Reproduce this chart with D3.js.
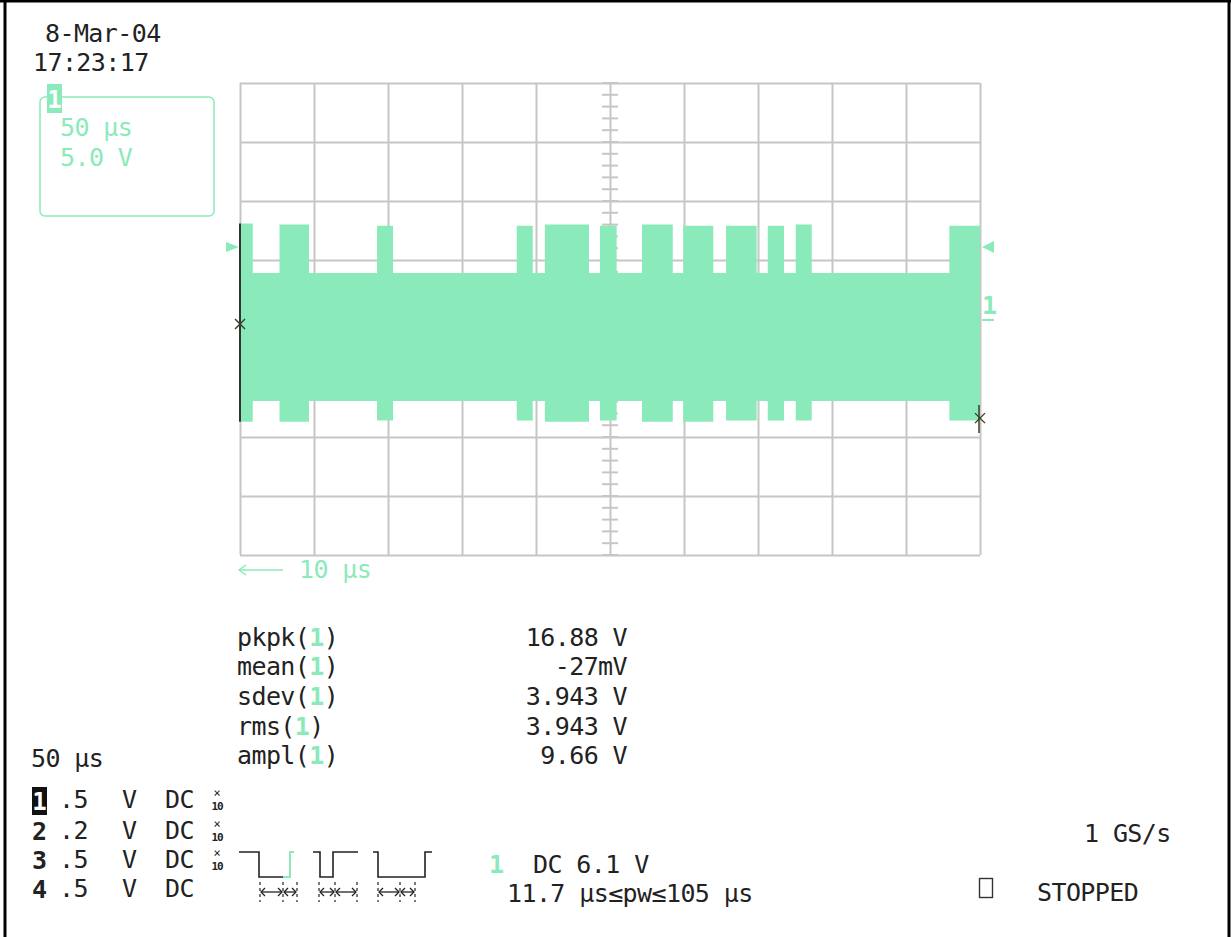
<!DOCTYPE html>
<html><head><meta charset="utf-8">
<script src="https://cdn.jsdelivr.net/npm/d3@7"></script>
<style>
html,body{margin:0;padding:0;background:#fff;}
svg text{font-family:"DejaVu Sans Mono",monospace;font-size:25px;letter-spacing:-0.6px;fill:#222;}
</style></head>
<body>
<svg id="c" width="1231" height="937"></svg>
<script>
const timeDivs = [0, 50, 100, 150, 200, 250, 300, 350, 400, 450, 500];   // µs, 50 µs/div
const voltDivs = [-20, -15, -10, -5, 0, 5, 10, 15, 20];                   // V, 5 V/div
const burstStart = [0, 26.7, 92.6, 187.0, 206.0, 243.2, 271.6, 299.5, 328.4, 356.6, 375.5, 479.3]; // µs
const burstEnd   = [8.6, 46.6, 103.4, 197.8, 235.8, 254.5, 292.4, 319.8, 349.1, 367.6, 386.3, 500]; // µs
const burstHigh = [8.1, 8.0, 7.9, 7.9, 8.0, 7.9, 8.0, 7.9, 7.9, 7.9, 8.0, 7.9];   // V envelope max in burst
const burstLow  = [-8.7, -8.7, -8.6, -8.6, -8.7, -8.6, -8.7, -8.7, -8.6, -8.6, -8.6, -8.6];
const idleHigh = 3.9, idleLow = -6.95;     // V envelope between bursts
const triggerLevel = 6.1;                  // V
const cursorA = {t: 0, v: -0.42}, cursorB = {t: 500, v: -8.4};
const measNames = ["pkpk", "mean", "sdev", "rms", "ampl"];
const measValues = ["16.88 V", "-27mV", "3.943 V", "3.943 V", "9.66 V"];
const chanNums = ["1", "2", "3", "4"];
const chanScale = [".5", ".2", ".5", ".5"];
const chanProbe = [true, true, true, false];

const GREEN = "#8beab9", GRID = "#c6c6c6", INK = "#222";
const svg = d3.select("#c");

// frame
svg.append("line").attr("x1",5).attr("x2",5).attr("y1",0).attr("y2",937).attr("stroke","#000").attr("stroke-width",3);
svg.append("line").attr("x1",0).attr("x2",1231).attr("y1",1).attr("y2",1).attr("stroke","#000").attr("stroke-width",3);
svg.append("line").attr("x1",1229).attr("x2",1229).attr("y1",0).attr("y2",937).attr("stroke","#000").attr("stroke-width",3);

const x = d3.scaleLinear().domain([0, 500]).range([240, 980]);
const y = d3.scaleLinear().domain([-20, 20]).range([555, 83]);

// grid via axes
const gx = svg.append("g").attr("transform","translate(0,555)")
  .call(d3.axisBottom(x).tickValues(timeDivs).tickSize(-(555-83)).tickFormat(""));
const gy = svg.append("g").attr("transform","translate(240,0)")
  .call(d3.axisLeft(y).tickValues(voltDivs).tickSize(-(980-240)).tickFormat(""));
[gx, gy].forEach(g => { g.select(".domain").remove(); g.selectAll("line").attr("stroke",GRID).attr("stroke-width",2); });

// minor ticks on centre axes
const vMinor = d3.range(-20, 20.01, 1);
const tMinor = d3.range(0, 500.01, 10);
svg.append("g").selectAll("line").data(vMinor).join("line")
  .attr("x1", x(250)-8).attr("x2", x(250)+8).attr("y1", d=>y(d)).attr("y2", d=>y(d))
  .attr("stroke",GRID).attr("stroke-width",2);
svg.append("g").selectAll("line").data(tMinor).join("line")
  .attr("y1", y(0)-8).attr("y2", y(0)+8).attr("x1", d=>x(d)).attr("x2", d=>x(d))
  .attr("stroke",GRID).attr("stroke-width",2);

// envelope breakpoints
const env = [];
burstStart.forEach((s,i) => {
  env.push({t:s, hi:burstHigh[i], lo:burstLow[i]});
  env.push({t:burstEnd[i], hi:idleHigh, lo:idleLow});
});
const area = d3.area().x(d=>x(d.t)).y0(d=>y(d.lo)).y1(d=>y(d.hi)).curve(d3.curveStepAfter);
svg.append("path").datum(env).attr("d", area).attr("fill", GREEN);

// trace start line
svg.append("line").attr("x1",x(0)).attr("x2",x(0)).attr("y1",y(burstHigh[0])).attr("y2",y(burstLow[0]))
  .attr("stroke","#333").attr("stroke-width",2);

// cursor markers
function cross(cx, cy){
  const g = svg.append("g").attr("stroke","#3c3c28").attr("stroke-width",1.4);
  g.append("line").attr("x1",cx-5).attr("x2",cx+5).attr("y1",cy-5).attr("y2",cy+5);
  g.append("line").attr("x1",cx-5).attr("x2",cx+5).attr("y1",cy+5).attr("y2",cy-5);
}
cross(x(cursorA.t), y(cursorA.v));
cross(x(cursorB.t), y(cursorB.v));
svg.append("line").attr("x1",x(cursorB.t)-1).attr("x2",x(cursorB.t)-1).attr("y1",y(cursorB.v)-13).attr("y2",y(cursorB.v)+15)
  .attr("stroke","#3c3c28").attr("stroke-width",1.5);

// trigger level arrows
const ty = y(triggerLevel);
svg.append("path").attr("d",`M226,${ty-5}L239,${ty}L226,${ty+5}Z`).attr("fill",GREEN);
svg.append("path").attr("d",`M994,${ty-6}L982,${ty}L994,${ty+6}Z`).attr("fill",GREEN);

// channel 1 ground marker
svg.append("text").attr("x",982).attr("y",314).text("1").style("fill",GREEN).style("font-weight","bold");
svg.append("line").attr("x1",982).attr("x2",994).attr("y1",y(0)+1).attr("y2",y(0)+1).attr("stroke",GREEN).attr("stroke-width",2);

// date / time
svg.append("text").attr("x",45).attr("y",42).text("8-Mar-04");
svg.append("text").attr("x",33).attr("y",71).text("17:23:17");

// channel box
svg.append("rect").attr("x",40).attr("y",97).attr("width",174).attr("height",119).attr("rx",5)
  .attr("fill","none").attr("stroke",GREEN).attr("stroke-width",1.5);
svg.append("rect").attr("x",47).attr("y",84).attr("width",15).attr("height",29).attr("fill",GREEN);
svg.append("text").attr("x",54.5).attr("y",108).attr("text-anchor","middle").text("1")
  .style("fill","#fff").style("font-weight","bold").style("font-size","24px").style("letter-spacing","0");
svg.append("text").attr("x",60).attr("y",136).text("50 µs").style("fill",GREEN);
svg.append("text").attr("x",60).attr("y",166).text("5.0 V").style("fill",GREEN);

// 10 µs arrow
svg.append("line").attr("x1",239).attr("x2",283).attr("y1",570).attr("y2",570).attr("stroke",GREEN).attr("stroke-width",1.5);
svg.append("path").attr("d","M246,565L239,570L246,575").attr("fill","none").attr("stroke",GREEN).attr("stroke-width",1.5);
svg.append("text").attr("x",299).attr("y",578).text("10 µs").style("fill",GREEN);

// measurements
const mBase = [646, 675, 705, 735, 764];
measNames.forEach((n,i) => {
  const t = svg.append("text").attr("x",237).attr("y",mBase[i]);
  t.append("tspan").text(n + "(");
  t.append("tspan").text("1").style("fill",GREEN).style("font-weight","bold");
  t.append("tspan").text(")");
  svg.append("text").attr("x",627).attr("y",mBase[i]).attr("text-anchor","end").text(measValues[i]);
});

// timebase
svg.append("text").attr("x",31).attr("y",767).text("50 µs");

// channel rows
const rBase = [808, 839, 868, 897];
chanNums.forEach((c,i) => {
  if (i === 0) {
    svg.append("rect").attr("x",32).attr("y",787).attr("width",15).attr("height",28).attr("fill","#111");
    svg.append("text").attr("x",39.5).attr("y",rBase[i]+2).attr("text-anchor","middle").text(c)
      .style("fill","#fff").style("font-weight","bold").style("font-size","24px").style("letter-spacing","0");
  } else {
    svg.append("text").attr("x",39.5).attr("y",rBase[i]+1).attr("text-anchor","middle").text(c)
      .style("font-weight","bold").style("font-size","25px").style("letter-spacing","0");
  }
  svg.append("text").attr("x",59).attr("y",rBase[i]).text(chanScale[i]);
  svg.append("text").attr("x",122).attr("y",rBase[i]).text("V");
  svg.append("text").attr("x",165).attr("y",rBase[i]).text("DC");
  if (chanProbe[i]) {
    svg.append("text").attr("x",217).attr("y",rBase[i]-11).attr("text-anchor","middle").text("×")
      .style("font-size","12px").style("letter-spacing","0");
    svg.append("text").attr("x",217).attr("y",rBase[i]+2).attr("text-anchor","middle").text("10")
      .style("font-size","11px").style("font-weight","bold").style("letter-spacing","-1px");
  }
});

// trigger pattern glyphs
const pg = svg.append("g").attr("fill","none").attr("stroke-width",1.6);
pg.append("path").attr("d","M239,852H259V877H283").attr("stroke",INK);
pg.append("path").attr("d","M283,877H290V852H294").attr("stroke",GREEN).attr("stroke-width",2);
pg.append("path").attr("d","M313,852H320V877H333V852H358").attr("stroke",INK);
pg.append("path").attr("d","M373,852H378V877H425V852H432").attr("stroke",INK);
[[260,283,297],[319,335,357],[378,400,415]].forEach(g => {
  g.forEach(xx => pg.append("line").attr("x1",xx).attr("x2",xx).attr("y1",882).attr("y2",902)
      .attr("stroke",INK).attr("stroke-width",1.2).attr("stroke-dasharray","3,3"));
  const ay = 892;
  [[g[0],g[1]],[g[1],g[2]]].forEach(([a,b]) => {
    pg.append("line").attr("x1",a+1).attr("x2",b-1).attr("y1",ay).attr("y2",ay).attr("stroke",INK).attr("stroke-width",1.3);
    pg.append("path").attr("d",`M${a+5},${ay-4}L${a+1},${ay}L${a+5},${ay+4}`).attr("stroke",INK).attr("stroke-width",1.3);
    pg.append("path").attr("d",`M${b-5},${ay-4}L${b-1},${ay}L${b-5},${ay+4}`).attr("stroke",INK).attr("stroke-width",1.3);
  });
});

// trigger text
svg.append("text").attr("x",489).attr("y",873).text("1").style("fill",GREEN).style("font-weight","bold");
svg.append("text").attr("x",533).attr("y",873).text("DC 6.1 V");
svg.append("text").attr("x",507).attr("y",902).text("11.7 µs≤pw≤105 µs");

// acquisition status
svg.append("text").attr("x",1084).attr("y",842).text("1 GS/s");
svg.append("rect").attr("x",979.5).attr("y",878.5).attr("width",13).attr("height",19).attr("fill","none").attr("stroke","#333").attr("stroke-width",1.4);
svg.append("text").attr("x",1037).attr("y",901).text("STOPPED");
</script>
</body></html>
